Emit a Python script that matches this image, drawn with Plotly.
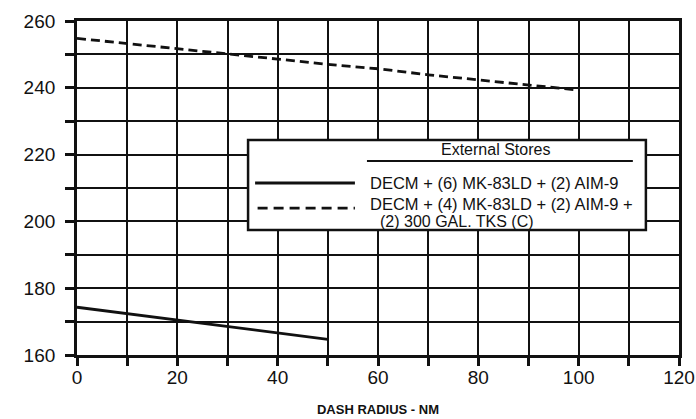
import plotly.graph_objects as go

# Data
dash_radius_a = [0, 10, 20, 30, 40, 50]
speed_a = [174.3, 172.4, 170.5, 168.5, 166.7, 164.7]
name_a = "DECM + (6) MK-83LD + (2) AIM-9"

dash_radius_b = [0, 10, 20, 30, 40, 50, 60, 70, 80, 90, 100]
speed_b = [254.8, 253.3, 251.8, 250.3, 248.6, 247.0, 245.7, 243.9, 242.4, 241.0, 239.3]
name_b_line1 = "DECM + (4) MK-83LD + (2) AIM-9 +"
name_b_line2 = "(2) 300 GAL. TKS (C)"

legend_title = "External Stores"
x_title = "DASH RADIUS - NM"

x_tick_vals = [0, 10, 20, 30, 40, 50, 60, 70, 80, 90, 100, 110, 120]
x_tick_text = ["0", "", "20", "", "40", "", "60", "", "80", "", "100", "", "120"]
y_tick_vals = [160, 170, 180, 190, 200, 210, 220, 230, 240, 250, 260]
y_tick_text = ["160", "", "180", "", "200", "", "220", "", "240", "", "260"]

INK = "#111111"
FONT = "Liberation Sans, Arial, sans-serif"

fig = go.Figure()
fig.add_trace(go.Scatter(x=dash_radius_a, y=speed_a, mode="lines", name=name_a,
                         line=dict(color=INK, width=2.8), showlegend=False))
fig.add_trace(go.Scatter(x=dash_radius_b, y=speed_b, mode="lines",
                         name=name_b_line1 + " " + name_b_line2,
                         line=dict(color=INK, width=2.8, dash="9px,5px"), showlegend=False))

# Hand-drawn style legend box (in data coordinates of the chart)
box_x0, box_x1, box_y0, box_y1 = 34.1, 113.4, 197.4, 224.4
shapes = [
    dict(type="rect", xref="x", yref="y", x0=box_x0, x1=box_x1, y0=box_y0, y1=box_y1,
         fillcolor="white", line=dict(color=INK, width=2.5), layer="above"),
    dict(type="line", xref="x", yref="y", x0=57.8, x1=110.8, y0=218.1, y1=218.1,
         line=dict(color=INK, width=2), layer="above"),
    dict(type="line", xref="x", yref="y", x0=35.5, x1=55.4, y0=211.5, y1=211.5,
         line=dict(color=INK, width=2.8), layer="above"),
    dict(type="line", xref="x", yref="y", x0=36.0, x1=55.4, y0=204.0, y1=204.0,
         line=dict(color=INK, width=2.8, dash="10px,6px"), layer="above"),
]
annotations = [
    dict(x=83.5, y=221.4, xref="x", yref="y", text=legend_title, showarrow=False,
         xanchor="center", yanchor="middle", font=dict(family=FONT, size=16, color=INK)),
    dict(x=58.0, y=211.5, xref="x", yref="y", text=name_a, showarrow=False,
         xanchor="left", yanchor="middle", font=dict(family=FONT, size=16.5, color=INK)),
    dict(x=58.0, y=205.3, xref="x", yref="y", text=name_b_line1, showarrow=False,
         xanchor="left", yanchor="middle", font=dict(family=FONT, size=16.5, color=INK)),
    dict(x=60.0, y=199.9, xref="x", yref="y", text=name_b_line2, showarrow=False,
         xanchor="left", yanchor="middle", font=dict(family=FONT, size=16, color=INK)),
]

fig.update_layout(
    width=696, height=419,
    margin=dict(l=77, r=17, t=21, b=64, autoexpand=False),
    paper_bgcolor="white", plot_bgcolor="white",
    font=dict(family=FONT, color=INK),
    shapes=shapes, annotations=annotations,
    showlegend=False,
)
fig.update_xaxes(
    range=[0, 120], tickvals=x_tick_vals, ticktext=x_tick_text,
    ticks="outside", ticklen=8, tickwidth=2.5, tickcolor=INK,
    showgrid=True, gridcolor=INK, gridwidth=2.2,
    showline=True, linecolor=INK, linewidth=2.8, mirror=True,
    zeroline=False, automargin=False, ticklabelstandoff=-5,
    tickfont=dict(family=FONT, size=19, color=INK),
    title=dict(text="<b>" + x_title + "</b>", font=dict(family=FONT, size=13, color=INK), standoff=19),
)
fig.update_yaxes(
    range=[160, 260], tickvals=y_tick_vals, ticktext=y_tick_text,
    ticks="outside", ticklen=9, tickwidth=2.5, tickcolor=INK,
    showgrid=True, gridcolor=INK, gridwidth=2.2,
    showline=True, linecolor=INK, linewidth=2.8, mirror=True,
    zeroline=False, automargin=False, ticklabelstandoff=6,
    tickfont=dict(family=FONT, size=19, color=INK),
)

fig.write_html("out.html", config={"displayModeBar": False},
               post_script="document.body.style.margin='0';document.body.style.overflow='hidden';")
